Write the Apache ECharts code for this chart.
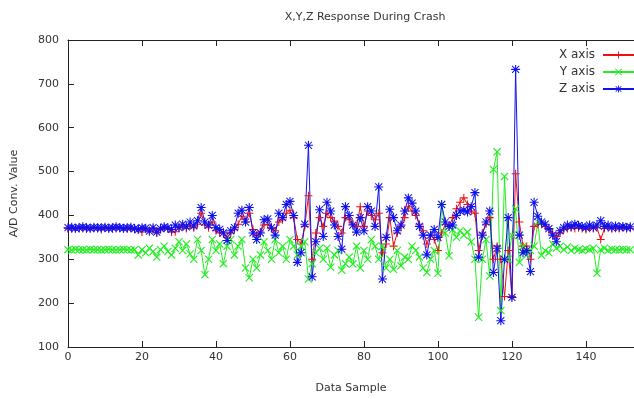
<!DOCTYPE html>
<html>
<head>
<meta charset="utf-8">
<script src="https://cdn.jsdelivr.net/npm/echarts@6/dist/echarts.min.js"></script>
<style>html,body{margin:0;padding:0;background:#fff}#c{width:634px;height:399px}</style>
</head>
<body>
<div id="c"></div>
<script>
var chartTitle = 'X,Y,Z Response During Crash';
var xName = 'Data Sample';
var yName = 'A/D Conv. Value';
var seriesNames = ['X axis', 'Y axis', 'Z axis'];

var xValues = [
370,369,371,370,370,369,371,370,370,368,371,370,369,370,371,370,369,370,368,370,
362,369,365,370,360,368,371,370,362,363,372,375,370,378,372,380,405,378,372,385,
365,360,362,350,360,368,380,398,385,405,368,355,362,378,380,370,365,385,390,405,
412,395,345,335,375,445,300,360,395,375,405,395,387,375,360,395,390,380,375,420,
375,410,400,390,405,315,335,395,330,360,375,395,420,410,400,380,365,335,355,345,
320,360,380,375,395,415,430,440,425,410,405,320,360,380,395,300,330,300,215,320,
215,495,385,330,330,300,375,380,380,375,368,360,352,360,368,370,372,370,372,370,
368,371,370,372,345,370,372,370,371,370,372,370,371
];
var yValues = [
322,321,323,322,322,321,323,322,322,321,322,323,322,321,322,323,322,321,322,310,
322,315,325,318,305,322,330,318,310,325,340,320,335,312,300,345,320,265,300,345,
320,335,290,330,345,310,330,345,280,258,300,280,310,340,320,300,345,315,330,300,
345,330,310,330,340,255,290,315,325,300,325,282,310,320,275,290,305,289,330,280,
320,300,345,330,300,330,280,300,277,320,285,305,300,330,320,305,280,270,300,320,
268,425,360,308,368,350,365,355,362,340,300,168,300,345,262,505,545,183,489,300,
355,415,293,330,310,320,330,385,309,320,315,335,325,330,322,328,320,325,322,320,
324,322,325,268,322,325,320,323,322,321,323,322,322
];
var zValues = [
372,373,371,372,374,372,371,373,372,372,373,371,372,374,372,371,372,373,370,368,
372,371,364,372,362,370,374,372,368,378,372,380,374,385,376,388,418,385,378,400,
372,368,360,343,365,372,405,412,385,418,360,345,360,390,392,372,355,405,395,425,
432,400,293,315,380,560,260,340,413,352,430,410,378,352,323,420,400,378,362,395,
365,420,410,375,465,255,350,414,395,365,378,410,440,428,410,375,355,310,355,368,
350,425,385,375,378,400,410,412,408,420,452,305,355,385,410,270,325,160,300,395,
213,733,355,315,320,272,430,398,385,380,370,355,340,365,372,378,375,380,377,375,
372,378,373,378,388,375,378,372,376,373,375,372,374
];
var xTicks = {min: 0, max: 153, interval: 20};
var yTicks = {min: 100, max: 800, interval: 100};

function pairs(arr){ return arr.map(function(v,i){ return [i, v]; }); }

var plusPath = 'path://M4.35,0H5.65V4.35H10V5.65H5.65V10H4.35V5.65H0V4.35H4.35Z';
var t = 1.0;
var xPath = 'path://M' + t + ',0L10,' + (10 - t) + 'L' + (10 - t) + ',10L0,' + t + 'Z' +
            'M' + (10 - t) + ',0L10,' + t + 'L' + t + ',10L0,' + (10 - t) + 'Z';
var starPath = 'path://M4.4,0H5.6V4.4H10V5.6H5.6V10H4.4V5.6H0V4.4H4.4Z' +
            'M1.5,0.7L9.3,8.5L8.5,9.3L0.7,1.5Z' +
            'M8.5,0.7L9.3,1.5L1.5,9.3L0.7,8.5Z';

var colors = ['#ee1111', '#22ee22', '#1111ee'];
var symbols = [plusPath, xPath, starPath];
var dataSets = [xValues, yValues, zValues];

var font = 'DejaVu Sans';
var chart = echarts.init(document.getElementById('c'), null, {renderer: 'canvas'});
var series = dataSets.map(function(d, k){
  return {
    name: seriesNames[k],
    type: 'line',
    data: pairs(d),
    symbol: symbols[k],
    symbolSize: k === 2 ? 9 : 8,
    showAllSymbol: true,
    animation: false,
    lineStyle: {color: colors[k], width: 1},
    itemStyle: {color: colors[k]},
    emphasis: {disabled: true}
  };
});

chart.setOption({
  animation: false,
  backgroundColor: '#fff',
  title: {
    text: chartTitle, left: 360, top: 7, textAlign: 'center',
    textStyle: {fontFamily: font, fontSize: 11, fontWeight: 'normal', color: '#333'}
  },
  legend: {
    orient: 'vertical', right: -1, top: 49, align: 'right',
    itemWidth: 31, itemHeight: 9, itemGap: 5, padding: 0,
    textStyle: {fontFamily: font, fontSize: 12, color: '#333', padding: [0, 3, 0, 0]},
    data: seriesNames
  },
  grid: {left: 68, right: 0, top: 40, bottom: 51, containLabel: false},
  xAxis: [{
    type: 'value', min: xTicks.min, max: xTicks.max, interval: xTicks.interval,
    name: xName, nameLocation: 'middle', nameGap: 36,
    nameTextStyle: {fontFamily: font, fontSize: 11, color: '#333'},
    axisLine: {show: true, lineStyle: {color: '#222', width: 1}},
    axisTick: {show: true, inside: true, length: 6, lineStyle: {color: '#222'}},
    axisLabel: {fontFamily: font, fontSize: 11, color: '#333', margin: 5,
      showMaxLabel: false},
    splitLine: {show: false}
  }, {
    type: 'value', position: 'top', min: xTicks.min, max: xTicks.max, interval: xTicks.interval,
    axisLine: {show: true, lineStyle: {color: '#222', width: 1}},
    axisTick: {show: true, inside: true, length: 6, lineStyle: {color: '#222'}},
    axisLabel: {show: false},
    splitLine: {show: false}
  }],
  yAxis: [{
    type: 'value', min: yTicks.min, max: yTicks.max, interval: yTicks.interval,
    name: yName, nameLocation: 'middle', nameGap: 48, nameRotate: 90,
    nameTextStyle: {fontFamily: font, fontSize: 11, color: '#333'},
    axisLine: {show: true, lineStyle: {color: '#222', width: 1}},
    axisTick: {show: true, inside: true, length: 6, lineStyle: {color: '#222'}},
    axisLabel: {fontFamily: font, fontSize: 11, color: '#333', margin: 9},
    splitLine: {show: false}
  }],
  series: series
});
</script>
</body>
</html>
